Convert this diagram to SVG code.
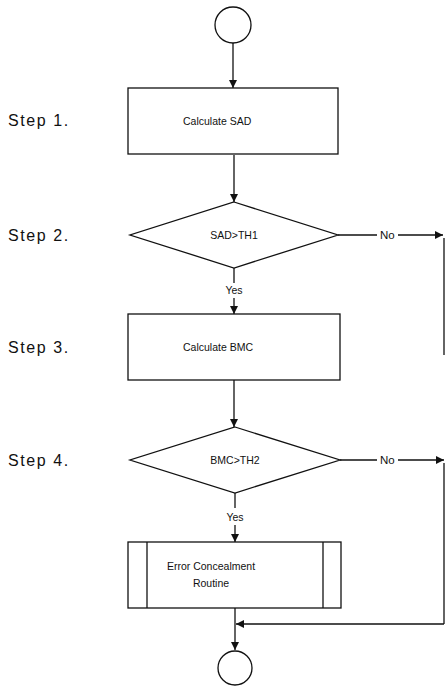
<svg xmlns="http://www.w3.org/2000/svg" width="446" height="689" viewBox="0 0 446 689">
<defs>
<marker id="ah" markerWidth="8" markerHeight="8" viewBox="0 0 8 8" refX="8" refY="4" orient="auto" markerUnits="userSpaceOnUse">
<path d="M0,0 L8,4 L0,8 Z" fill="#111"/>
</marker>
</defs>
<style>
.s{fill:none;stroke:#111;stroke-width:1.3}
.n{fill:#fff;stroke:#111;stroke-width:1.3}
.t{font-family:"Liberation Sans",Arial,sans-serif;font-size:10.5px;fill:#111}
.c{text-anchor:middle}
.step{font-family:"Liberation Sans",Arial,sans-serif;font-size:16px;fill:#111;letter-spacing:1.6px}
.no{font-family:"Liberation Sans",Arial,sans-serif;font-size:11.5px;fill:#111}
</style>
<rect width="446" height="689" fill="#fff"/>
<g id="labels">
<text class="step" x="8" y="126">Step 1.</text>
<text class="step" x="8" y="241">Step 2.</text>
<text class="step" x="8" y="353">Step 3.</text>
<text class="step" x="8" y="466">Step 4.</text>
</g>
<g id="connectors">
<line class="s" x1="233" y1="43" x2="233" y2="88" marker-end="url(#ah)"/>
<line class="s" x1="234" y1="155" x2="234" y2="202" marker-end="url(#ah)"/>
<line class="s" x1="234" y1="268" x2="234" y2="283"/>
<text class="t c" x="234" y="294">Yes</text>
<line class="s" x1="234" y1="298" x2="234" y2="314" marker-end="url(#ah)"/>
<line class="s" x1="234" y1="380" x2="234" y2="427" marker-end="url(#ah)"/>
<line class="s" x1="235" y1="493" x2="235" y2="508"/>
<text class="t c" x="235" y="521">Yes</text>
<line class="s" x1="235" y1="525" x2="235" y2="542" marker-end="url(#ah)"/>
<line class="s" x1="235" y1="608" x2="235" y2="650" marker-end="url(#ah)"/>
<line class="s" x1="338" y1="235" x2="377" y2="235"/>
<text class="no" x="380" y="239">No</text>
<line class="s" x1="398" y1="235" x2="443" y2="235" marker-end="url(#ah)"/>
<line class="s" x1="444" y1="238" x2="444" y2="355"/>
<line class="s" x1="340" y1="460" x2="377" y2="460"/>
<text class="no" x="380" y="464">No</text>
<line class="s" x1="398" y1="460" x2="444" y2="460" marker-end="url(#ah)"/>
<line class="s" x1="444" y1="463" x2="444" y2="624"/>
<line class="s" x1="444" y1="624" x2="236" y2="624" marker-end="url(#ah)"/>
</g>
<g id="start">
<circle class="n" cx="233" cy="25" r="18"/>
</g>
<g id="step1">
<rect class="n" x="128" y="88" width="210" height="66"/>
<text class="t" x="183" y="125">Calculate SAD</text>
</g>
<g id="step2">
<polygon class="n" points="234,202 338,235 234,268 130,235"/>
<text class="t c" x="234" y="239">SAD&gt;TH1</text>
</g>
<g id="step3">
<rect class="n" x="128" y="314" width="212" height="66"/>
<text class="t" x="183" y="351">Calculate BMC</text>
</g>
<g id="step4">
<polygon class="n" points="235,427 340,460 235,493 130,460"/>
<text class="t c" x="235" y="464">BMC&gt;TH2</text>
</g>
<g id="routine">
<rect class="n" x="128" y="542" width="213" height="66"/>
<line class="s" x1="147" y1="542" x2="147" y2="608"/>
<line class="s" x1="323" y1="542" x2="323" y2="608"/>
<text class="t c" x="211" y="570">Error Concealment</text>
<text class="t c" x="211" y="587">Routine</text>
</g>
<g id="end">
<circle class="n" cx="235" cy="668" r="17"/>
</g>
</svg>
